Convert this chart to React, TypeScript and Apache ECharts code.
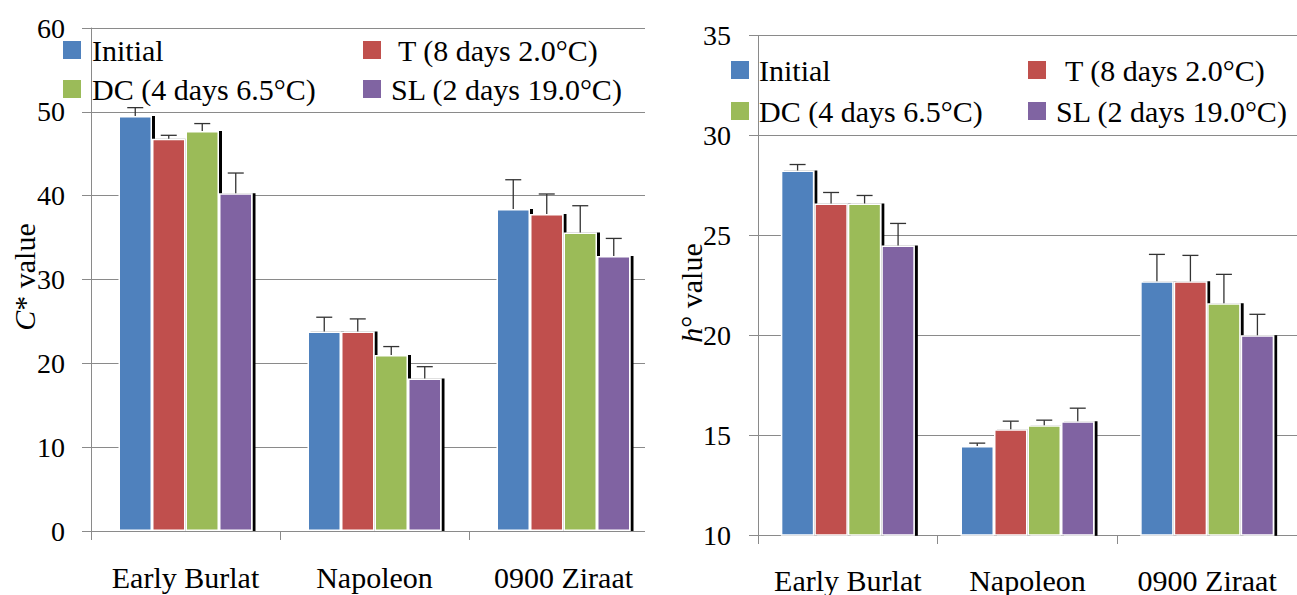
import React, { useEffect, useRef } from "react";
import * as echarts from "echarts";

const FONT = "'Liberation Serif', 'Times New Roman', serif";

const categories = ["Early Burlat", "Napoleon", "0900 Ziraat"];
const seriesNames = ["Initial", "T (8 days 2.0°C)", "DC (4 days 6.5°C)", "SL (2 days 19.0°C)"];
const colors = ["#4F81BD", "#C0504D", "#9BBB59", "#8064A2"];

// C* value (left chart)
const cInitial = [49.5, 23.8, 38.4];
const cT = [46.8, 23.8, 37.8];
const cDC = [47.7, 21.0, 35.6];
const cSL = [40.3, 18.2, 32.8];
const cInitialErr = [1.0, 1.7, 3.5];
const cTErr = [0.4, 1.5, 2.4];
const cDCErr = [0.9, 1.0, 3.2];
const cSLErr = [2.4, 1.4, 2.1];

// h° value (right chart)
const hInitial = [28.25, 14.45, 22.7];
const hT = [26.6, 15.3, 22.7];
const hDC = [26.6, 15.5, 21.6];
const hSL = [24.5, 15.7, 20.0];
const hInitialErr = [0.3, 0.15, 1.35];
const hTErr = [0.55, 0.4, 1.3];
const hDCErr = [0.4, 0.25, 1.45];
const hSLErr = [1.1, 0.65, 1.05];

const cTicks = { min: 0, max: 60, interval: 10 };
const hTicks = { min: 10, max: 35, interval: 5 };

const BAR_W = 33.5;

function buildSeries(gridIdx: number, values: number[][], errs: number[][]) {
  const out: any[] = [];
  values.forEach((vals, i) => {
    out.push({
      type: "bar",
      name: seriesNames[i],
      xAxisIndex: gridIdx,
      yAxisIndex: gridIdx,
      data: vals,
      barWidth: BAR_W,
      barGap: "0%",
      itemStyle: {
        color: colors[i],
        borderColor: "#ffffff",
        borderWidth: 1.5,
        shadowColor: "#000000",
        shadowOffsetX: 3,
        shadowOffsetY: 0,
        shadowBlur: 0,
      },
      emphasis: { disabled: true },
      z: 2,
    });
  });
  values.forEach((vals, i) => {
    out.push({
      type: "custom",
      name: seriesNames[i] + " err",
      xAxisIndex: gridIdx,
      yAxisIndex: gridIdx,
      data: vals.map((v, j) => [j, v, errs[i][j]]),
      z: 5,
      silent: true,
      renderItem: (params: any, api: any) => {
        const j = api.value(0);
        const v = api.value(1);
        const e = api.value(2);
        const base = api.coord([j, v]);
        const top = api.coord([j, v + e]);
        const x = base[0] + (i - 1.5) * BAR_W;
        const style = { stroke: "#333333", lineWidth: 1.3 };
        return {
          type: "group",
          children: [
            { type: "line", shape: { x1: x, y1: base[1], x2: x, y2: top[1] }, style },
            { type: "line", shape: { x1: x - 8, y1: top[1], x2: x + 8, y2: top[1] }, style },
          ],
        };
      },
    });
  });
  return out;
}

function legendItem(name: string, left: number, top: number, padLeft: number) {
  return {
    data: [name],
    left,
    top,
    padding: 0,
    itemWidth: 18,
    itemHeight: 18,
    icon: "rect",
    selectedMode: false,
    itemStyle: { borderWidth: 0, shadowBlur: 0, shadowOffsetX: 0, shadowOffsetY: 0, shadowColor: "transparent" },
    textStyle: { fontFamily: FONT, fontSize: 30, color: "#000", lineHeight: 30, padding: [0, 0, 0, padLeft] },
  };
}

const axisGray = "#8a8a8a";

function xAxisCfg(gridIndex: number, margin: number) {
  return {
    type: "category",
    gridIndex,
    data: categories,
    axisLine: { lineStyle: { color: axisGray, width: 1 } },
    axisTick: { show: true, length: 9, lineStyle: { color: axisGray } },
    axisLabel: { fontFamily: FONT, fontSize: 30, color: "#000", margin, interval: 0, hideOverlap: false },
    splitLine: { show: false },
  };
}

function yAxisCfg(gridIndex: number, t: { min: number; max: number; interval: number }, margin: number) {
  return {
    type: "value",
    gridIndex,
    min: t.min,
    max: t.max,
    interval: t.interval,
    axisLine: { show: true, lineStyle: { color: axisGray, width: 1 } },
    axisTick: { show: true, length: 9, lineStyle: { color: axisGray } },
    axisLabel: { fontFamily: FONT, fontSize: 28, color: "#000", margin, padding: [5, 0, 0, 0] },
    splitLine: { show: true, lineStyle: { color: axisGray, width: 1 } },
  };
}

export default function App() {
  const ref = useRef<HTMLDivElement>(null);
  useEffect(() => {
    if (!ref.current) return;
    const chart = echarts.init(ref.current, null, { renderer: "svg" });
    const option: any = {
      animation: false,
      backgroundColor: "#ffffff",
      textStyle: { fontFamily: FONT },
      grid: [
        { left: 91, top: 28, width: 567, height: 503, containLabel: false },
        { left: 758, top: 35.7, width: 567, height: 501.8, containLabel: false },
      ],
      xAxis: [xAxisCfg(0, 31), xAxisCfg(1, 30)],
      yAxis: [yAxisCfg(0, cTicks, 26), yAxisCfg(1, hTicks, 27)],
      legend: [
        legendItem(seriesNames[0], 63, 35, 6),
        legendItem(seriesNames[1], 363, 35, 12),
        legendItem(seriesNames[2], 63, 74, 6),
        legendItem(seriesNames[3], 363, 74, 5),
        legendItem(seriesNames[0], 731, 55, 5),
        legendItem(seriesNames[1], 1028, 55, 14),
        legendItem(seriesNames[2], 731, 96, 5),
        legendItem(seriesNames[3], 1028, 96, 5),
      ],
      graphic: [
        {
          type: "rect",
          z: 100,
          shape: { x: 645, y: 0, width: 27, height: 560 },
          style: { fill: "#ffffff" },
          silent: true,
        },
        {
          type: "text",
          x: 24,
          y: 277,
          rotation: Math.PI / 2,
          z: 110,
          style: {
            text: "{i|C}* value",
            fontFamily: FONT,
            fontSize: 30,
            fill: "#000",
            align: "center",
            verticalAlign: "middle",
            rich: { i: { fontStyle: "italic", fontFamily: FONT, fontSize: 30, fill: "#000" } },
          },
        },
        {
          type: "text",
          x: 691,
          y: 293,
          rotation: Math.PI / 2,
          z: 110,
          style: {
            text: "{i|h}° value",
            fontFamily: FONT,
            fontSize: 30,
            fill: "#000",
            align: "center",
            verticalAlign: "middle",
            rich: { i: { fontStyle: "italic", fontFamily: FONT, fontSize: 30, fill: "#000" } },
          },
        },
      ],
      series: [
        ...buildSeries(0, [cInitial, cT, cDC, cSL], [cInitialErr, cTErr, cDCErr, cSLErr]),
        ...buildSeries(1, [hInitial, hT, hDC, hSL], [hInitialErr, hTErr, hDCErr, hSLErr]),
      ],
    };
    chart.setOption(option);
    return () => chart.dispose();
  }, []);
  return (
    <div
      ref={ref}
      style={{ position: "absolute", left: 0, top: 0, width: 1297, height: 595 }}
    />
  );
}
